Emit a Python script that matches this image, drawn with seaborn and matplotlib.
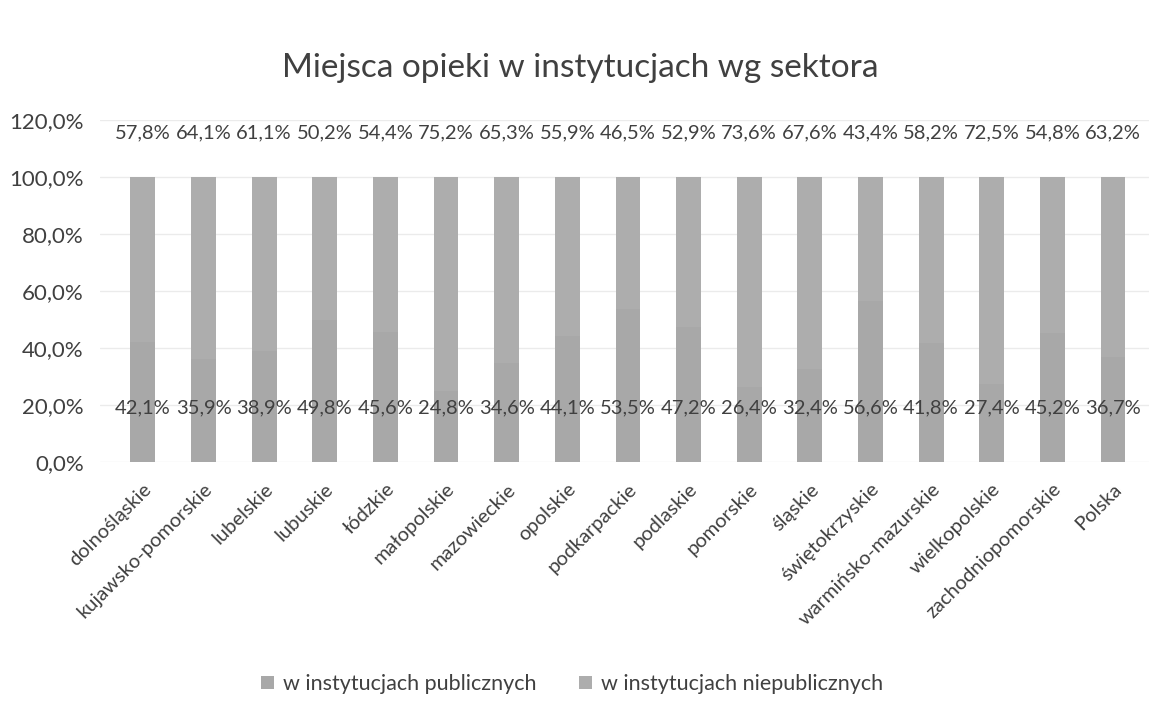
import seaborn as sns
import matplotlib.pyplot as plt
import pandas as pd

regions = ['dolnośląskie', 'kujawsko-pomorskie', 'lubelskie', 'lubuskie', 'łódzkie',
           'małopolskie', 'mazowieckie', 'opolskie', 'podkarpackie', 'podlaskie',
           'pomorskie', 'śląskie', 'świętokrzyskie', 'warmińsko-mazurskie',
           'wielkopolskie', 'zachodniopomorskie', 'Polska']

# w instytucjach publicznych (lower segment)
publiczne = [42.1, 35.9, 38.9, 49.8, 45.6, 24.8, 34.6, 44.1, 53.5, 47.2,
             26.4, 32.4, 56.6, 41.8, 27.4, 45.2, 36.7]
# w instytucjach niepublicznych (upper segment)
niepubliczne = [57.8, 64.1, 61.1, 50.2, 54.4, 75.2, 65.3, 55.9, 46.5, 52.9,
                73.6, 67.6, 43.4, 58.2, 72.5, 54.8, 63.2]

df = pd.DataFrame({'region': regions, 'pub': publiczne, 'niepub': niepubliczne})
df['total'] = df['pub'] + df['niepub']

sns.set_style("whitegrid")
plt.rcParams['font.family'] = ['Lato', 'DejaVu Sans']

text_col = '#404040'
col_pub = '#a8a8a8'
col_niepub = '#adadad'

fig = plt.figure(figsize=(11.61, 7.05), dpi=100)
ax = fig.add_axes([0.086, 0.345, 0.904, 0.485])

sns.barplot(data=df, x='region', y='total', color=col_niepub, width=0.41,
            saturation=1, linewidth=0, ax=ax, label='w instytucjach niepublicznych')
sns.barplot(data=df, x='region', y='pub', color=col_pub, width=0.41,
            saturation=1, linewidth=0, ax=ax, label='w instytucjach publicznych')

# data labels as they appear in the reference
for i, row in df.iterrows():
    ax.text(i, 115.5, f"{row['niepub']:.1f}%".replace('.', ','), ha='center',
            va='center', fontsize=14.5, color=text_col)
    ax.text(i, 19, f"{row['pub']:.1f}%".replace('.', ','), ha='center',
            va='center', fontsize=14.5, color=text_col)

ax.set_ylim(0, 120)
ax.set_xlim(-0.71, len(regions) - 0.4)
ax.set_yticks(range(0, 121, 20))
ax.set_yticklabels([f"{v},0%" for v in range(0, 121, 20)], fontsize=16, color=text_col)
ax.set_xticks(range(len(regions)))
ax.set_xticklabels(regions, rotation=45, ha='right', rotation_mode='anchor',
                   fontsize=14.5, color=text_col)
ax.tick_params(axis='x', pad=10)
ax.tick_params(axis='y', pad=8)
ax.set_xlabel('')
ax.set_ylabel('')
ax.grid(axis='x', visible=False)
ax.grid(axis='y', color='#ebebeb', linewidth=1)
for s in ax.spines.values():
    s.set_visible(False)

fig.suptitle('Miejsca opieki w instytucjach wg sektora', y=0.925, fontsize=24,
             color=text_col)

handles, labels = ax.get_legend_handles_labels()
ax.legend(handles[::-1], labels[::-1], loc='center', bbox_to_anchor=(0.45, -0.65),
          ncol=2, frameon=False, fontsize=15.5, labelcolor=text_col,
          handlelength=0.6, handleheight=0.6, handletextpad=0.4, columnspacing=2.0)

fig.savefig('out.png', dpi=100)
